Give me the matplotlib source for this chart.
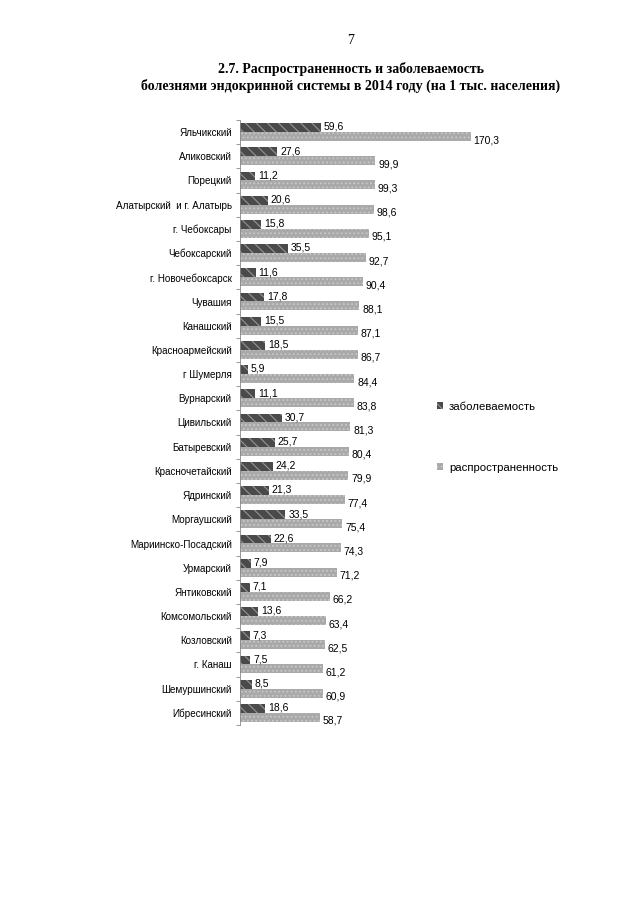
import matplotlib
matplotlib.use("Agg")
import matplotlib.pyplot as plt
import numpy as np
from matplotlib.patches import Patch

categories = ["Яльчикский", "Аликовский", "Порецкий", "Алатырский  и г. Алатырь",
              "г. Чебоксары", "Чебоксарский", "г. Новочебоксарск", "Чувашия",
              "Канашский", "Красноармейский", "г Шумерля", "Вурнарский",
              "Цивильский", "Батыревский", "Красночетайский", "Ядринский",
              "Моргаушский", "Мариинско-Посадский", "Урмарский", "Янтиковский",
              "Комсомольский", "Козловский", "г. Канаш", "Шемуршинский", "Ибресинский"]
incidence = [59.6, 27.6, 11.2, 20.6, 15.8, 35.5, 11.6, 17.8, 15.5, 18.5, 5.9, 11.1,
             30.7, 25.7, 24.2, 21.3, 33.5, 22.6, 7.9, 7.1, 13.6, 7.3, 7.5, 8.5, 18.6]
prevalence = [170.3, 99.9, 99.3, 98.6, 95.1, 92.7, 90.4, 88.1, 87.1, 86.7, 84.4, 83.8,
               81.3, 80.4, 79.9, 77.4, 75.4, 74.3, 71.2, 66.2, 63.4, 62.5, 61.2, 60.9, 58.7]
series_names = ["заболеваемость", "распространенность"]

plt.rcParams['font.family'] = ['Liberation Sans', 'DejaVu Sans']
plt.rcParams['hatch.linewidth'] = 0.8

fig = plt.figure(figsize=(6.4, 9.05), dpi=100)
ax = fig.add_axes([240/640, 1-725/905, 240/640, 605/905])

y = np.arange(len(categories))
h = 0.37
dark_c, dark_h = "#4a4a4a", "#959595"
light_c, light_h = "#a9a9a9", "#c8c8c8"

ax.barh(y - h/2, incidence, height=h, color=dark_c, edgecolor=dark_h,
        linewidth=0, hatch="\\\\\\")
ax.barh(y + h/2, prevalence, height=h, color=light_c, edgecolor=light_h,
        linewidth=0, hatch="....")

for yi, v in zip(y, incidence):
    ax.annotate(f"{v:.1f}".replace(".", ","), (v, yi - h/2), xytext=(2, 0.5),
                textcoords="offset points", va="center", ha="left", fontsize=7.5)
for yi, v in zip(y, prevalence):
    ax.annotate(f"{v:.1f}".replace(".", ","), (v, yi + h/2), xytext=(2, -2.5),
                textcoords="offset points", va="center", ha="left", fontsize=7.5)

ax.set_xlim(0, 177)
ax.set_ylim(len(categories) - 0.5, -0.5)
ax.set_yticks(y)
ax.set_yticklabels(categories, fontsize=7.1)
ax.tick_params(axis='y', length=0, pad=6)
ax.set_yticks(np.arange(-0.5, len(categories), 1), minor=True)
ax.tick_params(axis='y', which='minor', length=3, color="#888888", width=0.6)
ax.set_xticks([])
for s in ["top", "right", "bottom"]:
    ax.spines[s].set_visible(False)
ax.spines["left"].set_color("#888888")
ax.spines["left"].set_linewidth(0.6)

handles = [Patch(facecolor=dark_c, edgecolor=dark_h, hatch="\\\\\\", linewidth=0),
           Patch(facecolor=light_c, edgecolor=light_h, hatch="....", linewidth=0)]
fig.legend(handles, series_names, loc="upper left", bbox_to_anchor=(432/640, 1-397/905),
           frameon=False, fontsize=8.2, handlelength=0.6, handleheight=0.6,
           handletextpad=0.5, labelspacing=4.5, borderaxespad=0)

fig.text(351/640, 1-40/905, "7", ha="center", va="center", fontsize=10,
         family="Liberation Serif")
fig.text(351/640, 1-69/905, "2.7. Распространенность и заболеваемость", ha="center",
         va="center", fontsize=10, family="Liberation Serif", weight="bold")
fig.text(351/640, 1-86/905, "болезнями эндокринной системы в 2014 году (на 1 тыс. населения)",
         ha="center", va="center", fontsize=10, family="Liberation Serif", weight="bold")

fig.savefig("out.png", dpi=100)
